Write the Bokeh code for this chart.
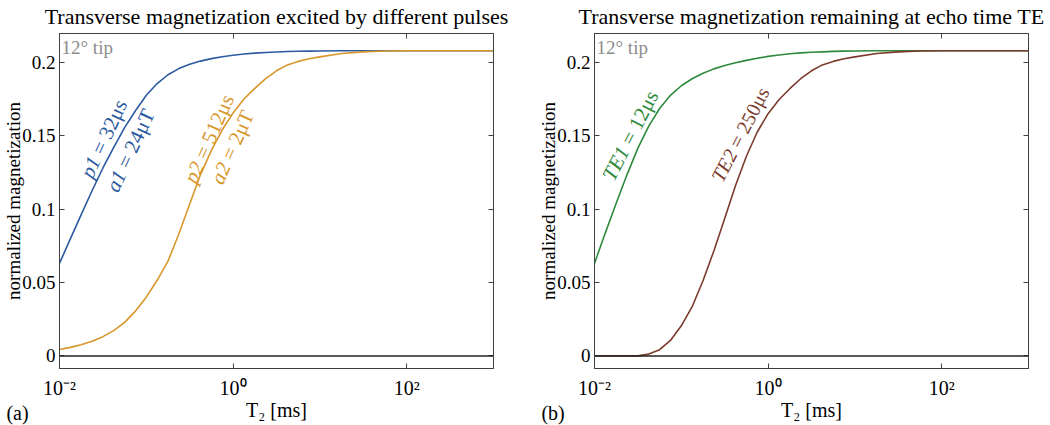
import math
from bokeh.plotting import figure
from bokeh.models import Range1d, FixedTicker, LinearAxis, Label, Span
from bokeh.layouts import row
from bokeh.embed import file_html
from bokeh.resources import INLINE

# ---- data ----
log_t2 = [-2, -1.875, -1.75, -1.625, -1.5, -1.375, -1.25, -1.125, -1, -0.875, -0.75, -0.625,
          -0.5, -0.375, -0.25, -0.125, 0, 0.125, 0.25, 0.375, 0.5, 0.625, 0.75, 0.875, 1,
          1.25, 1.5, 1.75, 2, 2.5, 3]
t2_ms = [10 ** e for e in log_t2]

pulse1 = [0.063, 0.0797, 0.0962, 0.1125, 0.1280, 0.1420, 0.1555, 0.1670, 0.1775, 0.1855, 0.1915, 0.1957,
          0.1986, 0.2008, 0.2025, 0.2038, 0.2048, 0.2056, 0.2062, 0.2067, 0.2070, 0.2073, 0.2075, 0.2076, 0.2077,
          0.2078, 0.2079, 0.2079, 0.2079, 0.2079, 0.2079]
pulse2 = [0.0044, 0.0058, 0.0076, 0.0100, 0.0131, 0.0172, 0.0228, 0.0305, 0.0400, 0.0515, 0.0645, 0.0830,
          0.1035, 0.1235, 0.1400, 0.1540, 0.1655, 0.1750, 0.1822, 0.1888, 0.1942, 0.1982, 0.2006, 0.2024, 0.2037,
          0.2060, 0.2071, 0.2077, 0.2079, 0.2079, 0.2079]
echo1 = [0.063, 0.0838, 0.1040, 0.1235, 0.1415, 0.1565, 0.1685, 0.1775, 0.1840, 0.1888, 0.1925, 0.1955,
         0.1978, 0.1997, 0.2013, 0.2027, 0.2040, 0.2050, 0.2058, 0.2064, 0.2068, 0.2071, 0.2074, 0.2076, 0.2077,
         0.2078, 0.2079, 0.2079, 0.2079, 0.2079, 0.2079]
echo2 = [0.0, 0.0, 0.0, 0.0, 0.0, 0.0012, 0.0042, 0.0105, 0.0205, 0.0335, 0.0512, 0.0715,
         0.0935, 0.1160, 0.1360, 0.1525, 0.1650, 0.1745, 0.1820, 0.1888, 0.1942, 0.1982, 0.2006, 0.2024, 0.2037,
         0.2060, 0.2071, 0.2077, 0.2079, 0.2079, 0.2079]

x_ticks = [0.01, 1, 100]
x_tick_labels = {0.01: "10\u207b\u00b2", 1: "10\u2070", 100: "10\u00b2"}
y_ticks = [0, 0.05, 0.1, 0.15, 0.2]

titles = ["Transverse magnetization excited by different pulses",
          "Transverse magnetization remaining at echo time TE"]
y_label = "normalized magnetization"
x_label = "T\u2082 [ms]"
panel_letters = ["(a)", "(b)"]
tip_text = "12\u00b0 tip"

BLUE = "#2c5aa0"
ORANGE = "#d8972c"
GREEN = "#2e8a3c"
BROWN = "#7b3a2c"
AX = "#404040"
SERIF = "Liberation Serif"

Y0, Y1 = -0.0086, 0.2196
NB = "\u00a0"


def px_to_x(px, frame_left):
    return 10 ** ((px - frame_left) / 86.7 - 2)


def py_to_y(py):
    return (355.7 - py) / 1468.0


def make_panel(title, letter, fl, right_border):
    p = figure(x_axis_type="log", x_range=Range1d(0.01, 1000), y_range=Range1d(Y0, Y1),
               frame_width=434, frame_height=335,
               min_border_left=54, min_border_right=right_border,
               min_border_top=30, min_border_bottom=52,
               output_backend="svg", toolbar_location=None)
    p.grid.visible = False
    p.outline_line_color = AX
    p.background_fill_color = "white"
    p.border_fill_color = "white"

    top = LinearAxis(ticker=FixedTicker(ticks=x_ticks, minor_ticks=[]), major_label_text_font_size="0px")
    right = LinearAxis(ticker=FixedTicker(ticks=y_ticks, minor_ticks=[]), major_label_text_font_size="0px")
    p.add_layout(top, "above")
    p.add_layout(right, "right")

    bottom = p.below[0]
    left = p.left[0]
    bottom.ticker = FixedTicker(ticks=x_ticks, minor_ticks=[])
    bottom.major_label_overrides = x_tick_labels
    left.ticker = FixedTicker(ticks=y_ticks, minor_ticks=[])

    for ax in (top, right, bottom, left):
        ax.axis_line_color = AX
        ax.major_tick_line_color = AX
        ax.major_tick_in = 5
        ax.major_tick_out = 0
        ax.minor_tick_line_color = None
        ax.major_label_text_font = SERIF
        ax.major_label_text_color = "black"
        ax.axis_label_text_font = SERIF
        ax.axis_label_text_font_style = "normal"
        ax.axis_label_text_color = "black"

    # title carried by the top axis
    top.axis_label = title
    top.axis_label_text_font_size = "22px"
    top.axis_label_standoff = 5

    bottom.major_label_text_font_size = "20px"
    bottom.major_label_standoff = 8
    bottom.axis_label = x_label
    bottom.axis_label_text_font_size = "20px"
    bottom.axis_label_standoff = -3

    left.major_label_text_font_size = "19px"
    left.major_label_standoff = 4
    left.axis_label = y_label
    left.axis_label_text_font_size = "19px"
    left.axis_label_standoff = -5

    # panel letter, in the bottom side panel (outside the frame)
    p.add_layout(Label(x=px_to_x(fl - 53, fl), y=py_to_y(413), text=letter, text_font=SERIF,
                       text_font_size="20px", text_color="black", text_baseline="alphabetic",
                       text_align="left"), "below")

    p.add_layout(Span(location=0, dimension="width", line_color="#222222", line_width=1.5))
    return p


def tip(p, fl):
    p.add_layout(Label(x=px_to_x(fl + 2, fl), y=py_to_y(37), text=tip_text, text_font=SERIF,
                       text_font_size="19px", text_color="#8c8c8c", text_baseline="top"))


def curve_label(p, fl, cx, cy, ital, w_ital, rest, w_rest, color, deg, fs=21):
    a = math.radians(deg)
    total = (w_ital + w_rest) * fs
    d = w_ital * fs - total / 2
    jx = cx + d * math.cos(a)
    jy = cy - d * math.sin(a)
    x, y = px_to_x(jx, fl), py_to_y(jy)
    p.add_layout(Label(x=x, y=y, text=ital, text_font=SERIF, text_font_size=f"{fs}px", text_color=color,
                       text_align="right", text_baseline="middle", angle=a, text_font_style="italic"))
    p.add_layout(Label(x=x, y=y, text=NB + rest, text_font=SERIF, text_font_size=f"{fs}px",
                       text_color=color, text_align="left", text_baseline="middle", angle=a))


# ---- panel (a) ----
FL1 = 62.3
p1 = make_panel(titles[0], panel_letters[0], FL1, 42)
p1.line(t2_ms, pulse1, line_color=BLUE, line_width=1.6)
p1.line(t2_ms, pulse2, line_color=ORANGE, line_width=1.6)
tip(p1, FL1)
curve_label(p1, FL1, 106.7, 138.3, "p1", 1.0, "= 32\u03bcs", 3.03, BLUE, 65)
curve_label(p1, FL1, 133.3, 150.0, "a1", 1.0, "= 24\u03bcT", 3.25, BLUE, 65)
curve_label(p1, FL1, 211.7, 138.3, "p2", 1.0, "= 512\u03bcs", 3.53, ORANGE, 66)
curve_label(p1, FL1, 235.0, 146.7, "a2", 1.0, "= 2\u03bcT", 2.75, ORANGE, 66)

# ---- panel (b) ----
FL2 = 592.3
p2 = make_panel(titles[1], panel_letters[1], FL2, 22)
p2.line(t2_ms, echo1, line_color=GREEN, line_width=1.6)
p2.line(t2_ms, echo2, line_color=BROWN, line_width=1.6)
tip(p2, FL2)
curve_label(p2, FL2, 628.3, 135.0, "TE1", 1.667, "= 12\u03bcs", 3.03, GREEN, 62.6)
curve_label(p2, FL2, 738.0, 134.0, "TE2", 1.667, "= 250\u03bcs", 3.53, BROWN, 62.7, fs=20)

layout = row(p1, p2)
open("out.html", "w").write(file_html(layout, INLINE))
